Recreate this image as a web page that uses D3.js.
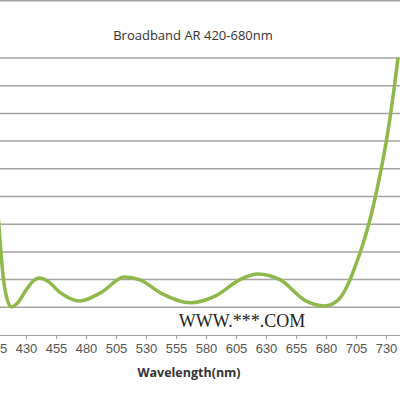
<!DOCTYPE html>
<meta charset="utf-8">
<style>
body { margin: 0; background: #fff; }
.grid line { stroke: #a3a3a3; stroke-width: 1.5; }
.axis path, .axis line { stroke: #a3a3a3; stroke-width: 1.2; }
.axis text { font-family: "Liberation Sans", Arial, sans-serif; font-size: 13px; fill: #555; }
.line { fill: none; stroke: #8fb84a; stroke-width: 3.5; }
</style>
<body>
<div id="chart"></div>
<script src="https://d3js.org/d3.v7.min.js"></script>
<script>
// wavelength (nm) and reflectance (%)
var wavelength = [407, 411, 414, 418, 423, 430, 436, 441, 448, 458, 475, 492, 512, 525, 542,
                  567, 588, 608, 623, 642, 662, 679, 690, 700, 705, 710, 715, 720, 725, 730, 735, 740];
var reflect = [4.2, 2.1, 1.34, 1.01, 1.16, 1.62, 1.95, 2.06, 1.95, 1.55, 1.23, 1.52, 2.09, 1.99, 1.52,
               1.16, 1.41, 1.99, 2.2, 1.99, 1.26, 1.05, 1.26, 1.99, 2.56, 3.18, 3.9, 4.77, 5.78, 6.93, 8.34, 10];
var xTicks = [405, 430, 455, 480, 505, 530, 555, 580, 605, 630, 655, 680, 705, 730];
var yGrid = [1, 2, 3, 4, 5, 6, 7, 8, 9, 10];

var width = 400, height = 400;
var svg = d3.select("#chart").append("svg")
    .attr("width", width)
    .attr("height", height);

var x = d3.scaleLinear().domain([430, 730]).range([26, 386]);
var y = d3.scaleLinear().domain([0, 10]).range([335, 58]);

// frame line on top
svg.append("line")
    .attr("x1", 0).attr("x2", width)
    .attr("y1", 0.75).attr("y2", 0.75)
    .style("stroke", "#a3a3a3").style("stroke-width", 1.5);

// title
svg.append("text")
    .attr("x", 193).attr("y", 40)
    .attr("text-anchor", "middle")
    .style("font-family", "'Open Sans', sans-serif")
    .style("font-size", "13px")
    .style("fill", "#333")
    .text("Broadband AR 420-680nm");

// gridlines
svg.append("g").attr("class", "grid")
  .selectAll("line")
  .data(yGrid)
  .enter().append("line")
    .attr("x1", 0).attr("x2", width)
    .attr("y1", function(d) { return y(d); })
    .attr("y2", function(d) { return y(d); });

// x axis
var xAxis = svg.append("g")
    .attr("class", "axis")
    .attr("transform", "translate(0," + y(0) + ")")
    .call(d3.axisBottom(x).tickValues(xTicks).tickSize(4).tickSizeOuter(0).tickPadding(5));
xAxis.select(".domain").attr("d", "M0,0.5H" + width);

svg.append("text")
    .attr("x", 189).attr("y", 377)
    .attr("text-anchor", "middle")
    .style("font-family", "'Open Sans', sans-serif")
    .style("font-size", "12.5px")
    .style("font-weight", "bold")
    .style("fill", "#333")
    .text("Wavelength(nm)");

// curve
svg.append("clipPath").attr("id", "plot")
  .append("rect").attr("x", 0).attr("y", y(10) - 2).attr("width", width).attr("height", y(0) - y(10) + 2);

var line = d3.line()
    .x(function(d, i) { return x(wavelength[i]); })
    .y(function(d) { return y(d); })
    .curve(d3.curveMonotoneX);

svg.append("path")
    .datum(reflect)
    .attr("class", "line")
    .attr("clip-path", "url(#plot)")
    .attr("d", line);

// watermark
svg.append("text")
    .attr("x", 242).attr("y", 327)
    .attr("text-anchor", "middle")
    .style("font-family", "'Liberation Serif', serif")
    .style("font-size", "18px")
    .style("fill", "#222")
    .text("WWW.***.COM");
</script>
</body>
